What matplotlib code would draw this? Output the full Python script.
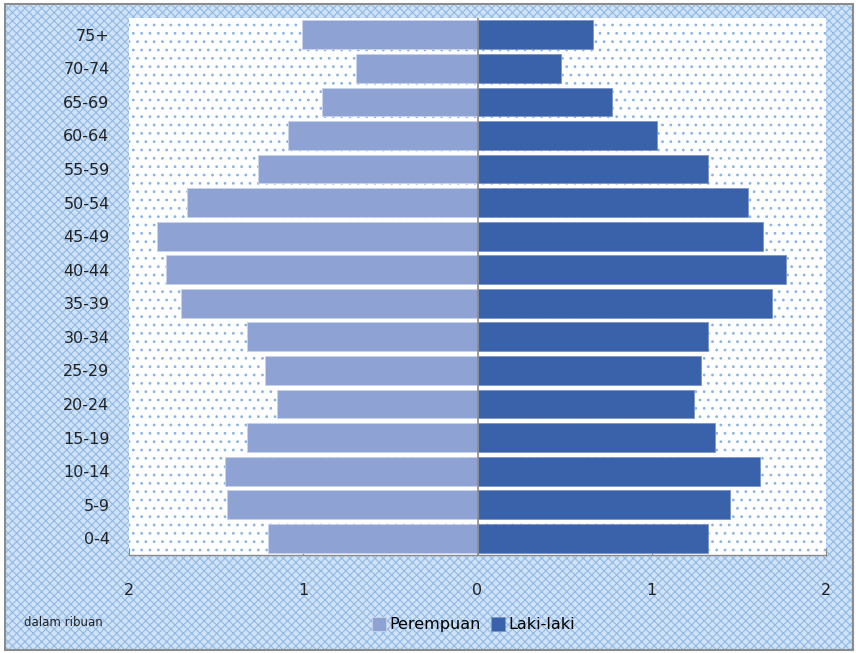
import numpy as np
import matplotlib
matplotlib.use("Agg")
import matplotlib.pyplot as plt
from matplotlib.patches import Rectangle

# ========================= Data =========================
age_groups = ['0-4', '5-9', '10-14', '15-19', '20-24', '25-29', '30-34', '35-39',
              '40-44', '45-49', '50-54', '55-59', '60-64', '65-69', '70-74', '75+']
perempuan = [1.20, 1.44, 1.45, 1.32, 1.15, 1.22, 1.32, 1.70,
             1.79, 1.84, 1.67, 1.26, 1.09, 0.89, 0.70, 1.01]
laki_laki = [1.32, 1.45, 1.62, 1.36, 1.24, 1.28, 1.32, 1.69,
             1.77, 1.64, 1.55, 1.32, 1.03, 0.77, 0.48, 0.66]
x_ticks = [-2, -1, 0, 1, 2]
x_ticklabels = ['2', '1', '0', '1', '2']

COL_P = '#8fa2d4'
COL_L = '#3a62ab'

# ========================= Figure =========================
plt.rcParams['hatch.linewidth'] = 0.8
fig = plt.figure(figsize=(8.56, 6.53), dpi=100)

# hatched light blue background with grey frame
fig.patches.append(Rectangle((0.006, 0.004), 0.99, 0.99, transform=fig.transFigure,
                             facecolor='#d0e2f6', edgecolor='#90b9e6', hatch='xxxx',
                             linewidth=0, zorder=-5))
fig.patches.append(Rectangle((0.006, 0.004), 0.99, 0.99, transform=fig.transFigure,
                             facecolor='none', edgecolor='#8c8c8c', linewidth=1.5,
                             zorder=5))

ax = fig.add_axes([0.1507, 0.150, 0.8143, 0.8224])
ax.set_facecolor('white')
ax.add_patch(Rectangle((0, 0), 1, 1, transform=ax.transAxes, facecolor='white',
                       edgecolor='#8ab4e4', hatch='..', linewidth=0, zorder=0))

y = np.arange(len(age_groups))
ax.barh(y, [-v for v in perempuan], height=0.86, color=COL_P, edgecolor='#c9d3ec',
        linewidth=0.6, label='Perempuan', zorder=2)
ax.barh(y, laki_laki, height=0.86, color=COL_L, edgecolor='#7d96c8',
        linewidth=0.6, label='Laki-laki', zorder=2)
ax.axvline(0, color='#8a8a8a', linewidth=1.2, zorder=3)

ax.set_xlim(-2, 2)
ax.set_ylim(-0.5, len(age_groups) - 0.5)
ax.set_yticks(y)
ax.set_yticklabels(age_groups, fontsize=11.5, color='#222222')
ax.set_xticks(x_ticks)
ax.set_xticklabels(x_ticklabels, fontsize=11.5, color='#222222')
ax.tick_params(axis='y', length=0, pad=14)
ax.tick_params(axis='x', direction='in', length=5, color='#8a8a8a', pad=20)

for s in ['top', 'right', 'left']:
    ax.spines[s].set_visible(False)
ax.spines['bottom'].set_color('#8a8a8a')
ax.spines['bottom'].set_linewidth(1.0)

leg = fig.legend(loc='center', bbox_to_anchor=(0.553, 0.043), ncol=2, frameon=False,
                 fontsize=11.5, handlelength=0.9, handleheight=0.9, handletextpad=0.2,
                 columnspacing=0.6)

fig.text(0.028, 0.047, 'dalam ribuan', fontsize=8.5, color='#222222',
         ha='left', va='center')

fig.savefig('out.png', dpi=100)
